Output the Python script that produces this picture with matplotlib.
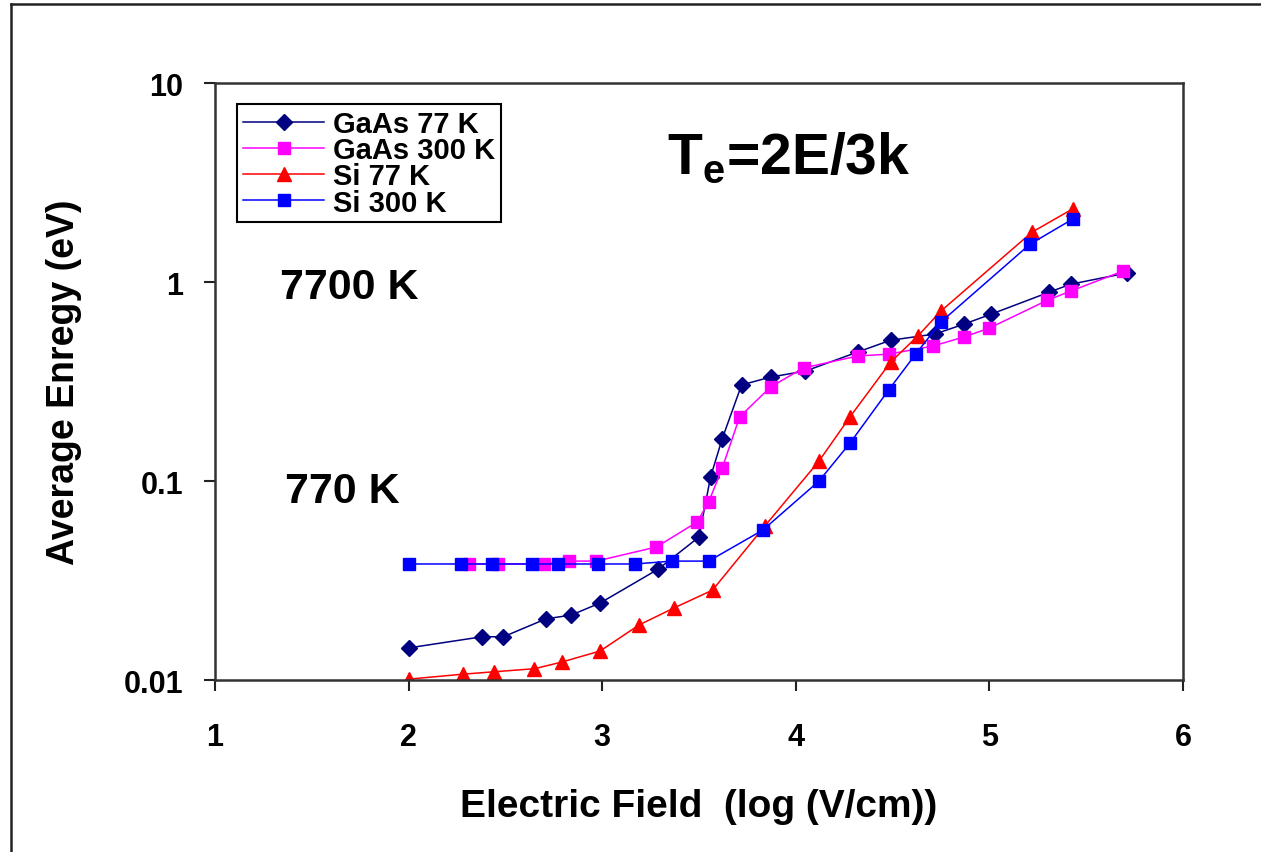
import numpy as np
import matplotlib
matplotlib.use('Agg')
import matplotlib.pyplot as plt
from matplotlib.lines import Line2D

#===============================================================================
# average carrier energy vs electric field (log10 of V/cm)
#===============================================================================
gaas77_x = [2.00, 2.38, 2.49, 2.71, 2.84, 2.99, 3.29, 3.50, 3.56, 3.62, 3.72,
            3.87, 4.05, 4.32, 4.49, 4.72, 4.87, 5.01, 5.31, 5.42, 5.71]
gaas77_y = [0.0145, 0.0165, 0.0165, 0.0203, 0.0212, 0.0244, 0.0361, 0.0523,
            0.105, 0.163, 0.304, 0.333, 0.357, 0.445, 0.51, 0.548, 0.615,
            0.69, 0.89, 0.975, 1.11]

gaas300_x = [2.31, 2.46, 2.70, 2.83, 2.97, 3.28, 3.49, 3.55, 3.62, 3.71, 3.87,
             4.04, 4.32, 4.48, 4.71, 4.87, 5.00, 5.30, 5.42, 5.69]
gaas300_y = [0.0383, 0.0383, 0.0383, 0.0396, 0.0396, 0.0466, 0.0622, 0.0784,
             0.116, 0.21, 0.297, 0.37, 0.425, 0.434, 0.477, 0.53, 0.587,
             0.81, 0.90, 1.135]

si77_x = [2.00, 2.28, 2.44, 2.65, 2.79, 2.99, 3.19, 3.37, 3.57, 3.84, 4.12,
          4.28, 4.49, 4.63, 4.75, 5.22, 5.43]
si77_y = [0.0101, 0.0107, 0.0110, 0.0114, 0.0123, 0.0140, 0.0189, 0.0230,
          0.0283, 0.0594, 0.126, 0.21, 0.396, 0.535, 0.715, 1.78, 2.33]

si300_x = [2.00, 2.27, 2.43, 2.64, 2.77, 2.98, 3.17, 3.36, 3.55, 3.83, 4.12,
           4.28, 4.48, 4.62, 4.75, 5.21, 5.43]
si300_y = [0.0383, 0.0383, 0.0383, 0.0383, 0.0383, 0.0383, 0.0383, 0.0396,
           0.0396, 0.0567, 0.100, 0.155, 0.287, 0.435, 0.63, 1.55, 2.07]

labels = ['GaAs 77 K', 'GaAs 300 K', 'Si 77 K', 'Si 300 K']
x_ticks = [1, 2, 3, 4, 5, 6]
y_ticks = [0.01, 0.1, 1, 10]
y_tick_labels = ['0.01', '0.1', '1', '10']
#===============================================================================
plt.rcParams['font.family'] = ['Liberation Sans', 'DejaVu Sans']
plt.rcParams['font.weight'] = 'bold'

fig = plt.figure(figsize=(12.61, 8.53), dpi=100)
ax = fig.add_axes([0.1705, 0.2016, 0.7676, 0.6999])

ax.plot(gaas77_x, gaas77_y, color='#000080', marker='D', ms=8, lw=1.1,
        label=labels[0])
ax.plot(gaas300_x, gaas300_y, color='#FF00FF', marker='s', ms=9, lw=1.1,
        label=labels[1])
ax.plot(si77_x, si77_y, color='#FF0000', marker='^', ms=10, lw=1.1,
        label=labels[2])
ax.plot(si300_x, si300_y, color='#0000FF', marker='s', ms=9, lw=1.1,
        label=labels[3])

ax.set_yscale('log')
ax.set_xlim(1, 6)
ax.set_ylim(0.01, 10)
ax.set_xticks(x_ticks)
ax.set_xticklabels([str(v) for v in x_ticks])
ax.set_yticks(y_ticks)
ax.set_yticklabels(y_tick_labels)
ax.yaxis.set_minor_locator(matplotlib.ticker.NullLocator())
ax.tick_params(axis='both', direction='out', length=8, width=1.5,
               labelsize=22, color='#222222')
ax.tick_params(axis='x', pad=22)
ax.tick_params(axis='y', pad=15)
for sp in ax.spines.values():
    sp.set_linewidth(1.8)
    sp.set_color('#333333')

ax.set_xlabel('Electric Field  (log (V/cm))', fontsize=28, fontweight='bold',
              labelpad=26)
ax.set_ylabel('Average Enregy (eV)', fontsize=27, fontweight='bold',
              labelpad=30)

leg = ax.legend(loc='upper left', bbox_to_anchor=(0.0227, 0.9648),
                borderaxespad=0, fontsize=21, labelspacing=-0.06,
                handlelength=2.8, handletextpad=0.3, borderpad=0.2,
                fancybox=False, framealpha=1)
leg.get_frame().set_edgecolor('black')
leg.get_frame().set_linewidth(1.5)

ax.text(3.335, 3.55, 'T$_\\mathregular{e}$=2E/3k', fontsize=41,
        fontweight='bold', ha='left', va='baseline')
ax.text(1.336, 0.94, '7700 K', fontsize=31, fontweight='bold',
        ha='left', va='center')
ax.text(1.36, 0.089, '770 K', fontsize=31, fontweight='bold',
        ha='left', va='center')

# page frame (top and left edges)
fig.add_artist(Line2D([0.0087, 1.0], [0.9941, 0.9941], color='#222222',
                      lw=1.8, transform=fig.transFigure))
fig.add_artist(Line2D([0.0087, 0.0087], [0.0, 0.9941], color='#222222',
                      lw=1.8, transform=fig.transFigure))

plt.savefig('out.png', dpi=100)
